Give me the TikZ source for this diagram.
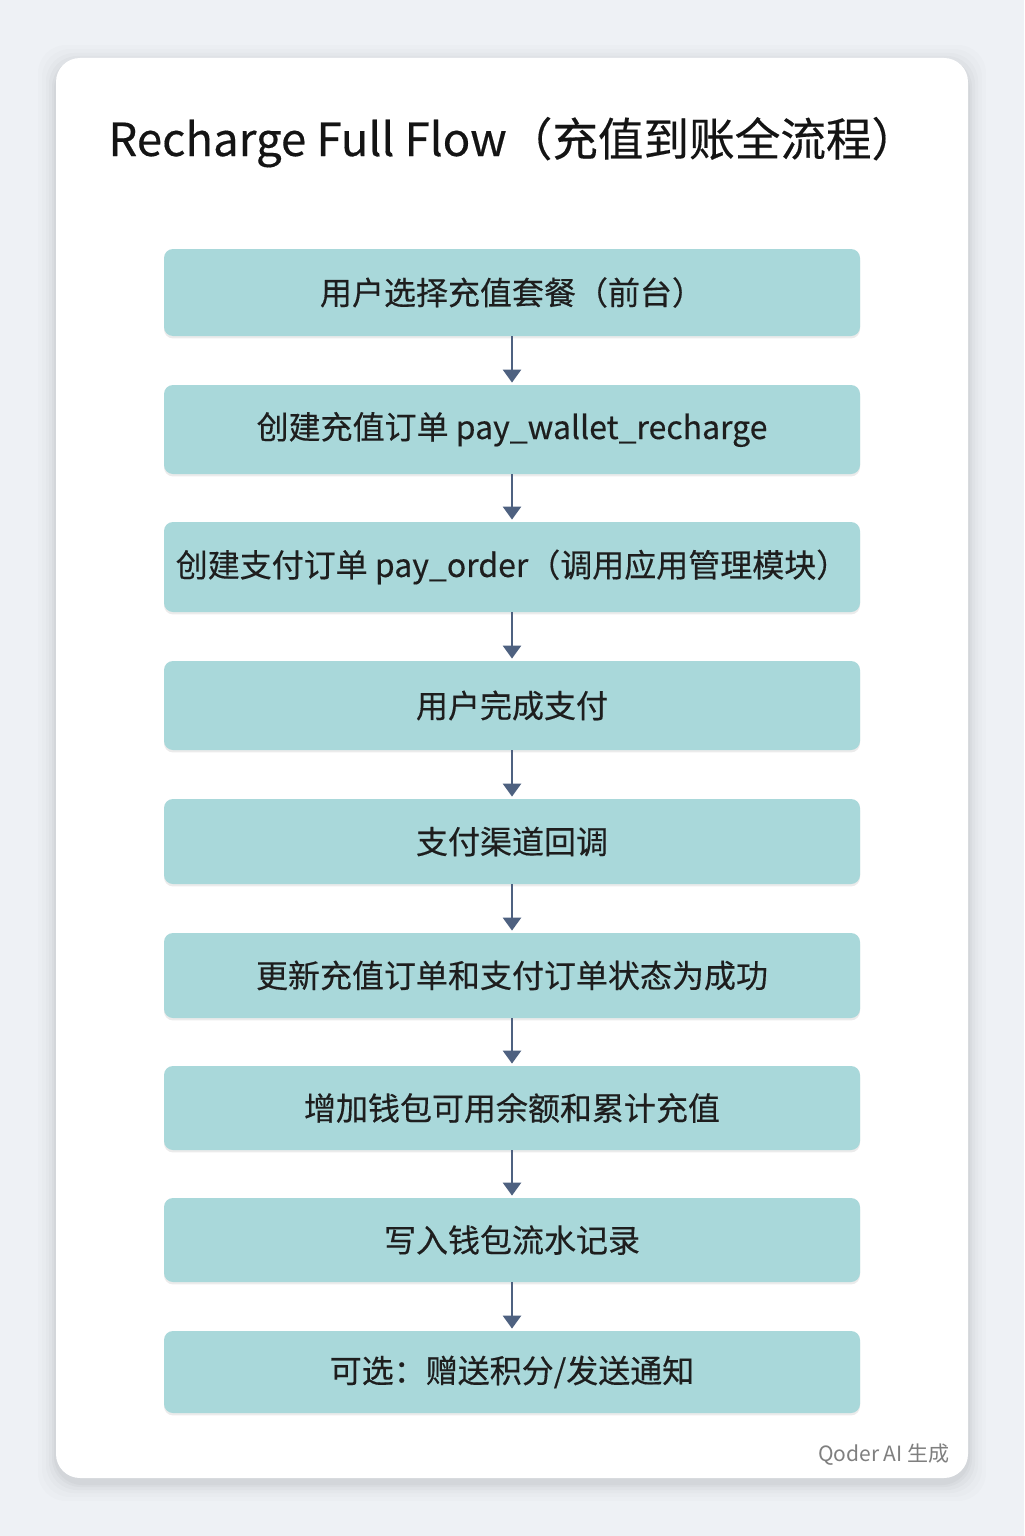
\documentclass[tikz,border=0pt]{standalone}
\usepackage{fontspec}
\setmainfont{Noto Sans CJK SC}
\newfontfamily\medfont{Noto Sans CJK SC}[FakeBold=0.35]
\usetikzlibrary{arrows.meta,shadows}
\definecolor{bgc}{HTML}{EEF1F5}
\definecolor{boxfill}{HTML}{A9D8DA}
\definecolor{arrowc}{HTML}{4E6180}
\definecolor{wmc}{HTML}{7F7F7F}
\definecolor{txtc}{HTML}{1E1E1E}
\begin{document}
\begin{tikzpicture}[x=0.5pt,y=-0.5pt,
  stepbox/.style={fill=boxfill, rounded corners=4.5pt, minimum width=348pt, inner sep=0pt,
    text=txtc, font=\medfont\fontsize{16}{19}\selectfont,
    drop shadow={shadow xshift=0pt, shadow yshift=-1.2pt, opacity=0.08, fill=black}},
  flowarrow/.style={draw=arrowc, line width=1.3pt, shorten >=1pt, -{Triangle[width=9pt,length=6.5pt]}}]
% background
\fill[bgc] (0,0) rectangle (1024,1536);
\useasboundingbox (0,0) rectangle (1024,1536);
% card shadow
\foreach \d/\o in {18/0.01,14/0.012,10/0.015,7/0.018,4/0.022,2/0.025}{
  \fill[black,opacity=\o,rounded corners=14pt] (56-\d,58-\d+5) rectangle (968+\d,1478+\d+5);
}
\fill[white,rounded corners=12pt] (56,58) rectangle (968,1478);
% title
\node[anchor=base west, inner sep=0pt, text=black!92, font=\medfont\fontsize{22.8}{27}\selectfont] (title) at (108,156) {Recharge Full Flow（充值到账全流程）};
% steps
\node[stepbox, minimum height=43.5pt] (s1) at (512,292.5) {用户选择充值套餐（前台）};
\node[stepbox, minimum height=44.5pt] (s2) at (512,429.5) {创建充值订单 pay\_wallet\_recharge};
\node[stepbox, minimum height=45pt] (s3) at (512,567) {创建支付订单 pay\_order（调用应用管理模块）};
\node[stepbox, minimum height=44.5pt] (s4) at (512,705.5) {用户完成支付};
\node[stepbox, minimum height=42.5pt] (s5) at (512,841.5) {支付渠道回调};
\node[stepbox, minimum height=42.5pt] (s6) at (512,975.5) {更新充值订单和支付订单状态为成功};
\node[stepbox, minimum height=42pt] (s7) at (512,1108) {增加钱包可用余额和累计充值};
\node[stepbox, minimum height=42pt] (s8) at (512,1240) {写入钱包流水记录};
\node[stepbox, minimum height=41pt] (s9) at (512,1372) {可选：赠送积分/发送通知};
% arrows
\foreach \a/\b in {s1/s2,s2/s3,s3/s4,s4/s5,s5/s6,s6/s7,s7/s8,s8/s9}{
  \draw[flowarrow] (\a.south) -- (\b.north);
}
% watermark
\node[anchor=base east, inner sep=0pt, text=wmc, font=\fontsize{10.5}{12}\selectfont] (wm) at (950,1461) {Qoder AI 生成};
\end{tikzpicture}
\end{document}
